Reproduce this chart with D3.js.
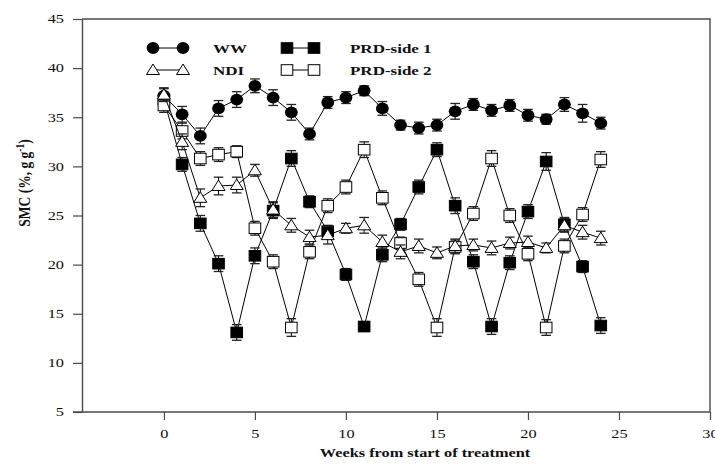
<!DOCTYPE html>
<html><head><meta charset="utf-8">
<script src="https://cdn.jsdelivr.net/npm/d3@7"></script>
<style>
html,body{margin:0;padding:0;background:#fff;}
svg{display:block;}
text{font-family:"Liberation Serif","Times New Roman",serif;fill:#111;}
</style></head>
<body>
<svg id="chart" width="715" height="466"></svg>
<script>
// ---- data ----
const weeks = [0,1,2,3,4,5,6,7,8,9,10,11,12,13,14,15,16,17,18,19,20,21,22,23,24];
const ww    = [37.2,35.3,33.1,35.9,36.8,38.2,37.0,35.5,33.3,36.5,37.0,37.7,35.9,34.2,33.9,34.2,35.6,36.3,35.7,36.2,35.2,34.8,36.3,35.4,34.4];
const wwErr = [0.7,0.8,0.8,0.8,0.8,0.7,0.8,0.8,0.6,0.6,0.6,0.5,0.7,0.5,0.6,0.6,0.8,0.6,0.6,0.6,0.6,0.5,0.7,0.9,0.6];
const prd1    = [36.8,30.2,24.2,20.1,13.1,20.9,25.5,30.8,26.4,23.4,19.0,13.7,21.0,24.1,27.9,31.7,26.0,20.3,13.7,20.2,25.4,30.5,24.1,19.8,13.8];
const prd1Err = [0.7,0.7,0.8,0.8,0.8,0.8,0.8,0.8,0.6,0.6,0.6,0.5,0.7,0.6,0.7,0.7,0.8,0.7,0.8,0.7,0.7,0.9,0.7,0.6,0.8];
const prd2    = [36.2,33.6,30.8,31.2,31.5,23.7,20.3,13.6,21.3,26.0,27.9,31.7,26.8,22.2,18.5,13.6,21.8,25.2,30.8,25.0,21.1,13.6,21.9,25.1,30.7];
const prd2Err = [0.7,0.8,0.7,0.7,0.6,0.7,0.7,0.9,0.7,0.7,0.7,0.8,0.7,0.6,0.7,0.9,0.7,0.7,0.8,0.7,0.7,0.8,0.7,0.7,0.8];
const ndi    = [37.3,32.5,26.8,28.0,28.1,29.6,25.6,24.0,22.8,23.0,23.7,24.0,22.3,21.3,21.9,21.2,21.9,22.0,21.7,22.2,22.3,21.7,24.0,23.3,22.7];
const ndiErr = [0.7,0.8,0.9,0.9,0.8,0.6,0.8,0.7,0.7,0.9,0.5,0.8,0.7,0.7,0.7,0.6,0.7,0.6,0.7,0.6,0.6,0.5,0.7,0.7,0.7];
const xTicks = [0,5,10,15,20,25,30];
const yTicks = [5,10,15,20,25,30,35,40,45];
const seriesNames = ["WW","NDI","PRD-side 1","PRD-side 2"];

const SX = 1.36; // horizontal stretch of the original lettering
const svg = d3.select("#chart");
const L = 82, R = 710, T = 19, B = 412;
const x = d3.scaleLinear().domain([-4.5,30]).range([L,R]);
const y = d3.scaleLinear().domain([5,45]).range([B,T]);
const axisColor = "#4a4a4a";

// frame (top + right)
svg.append("path").attr("d",`M${L},${T}H${R}V${B}`).attr("fill","none").attr("stroke",axisColor).attr("stroke-width",1.4);

// axes
const gx = svg.append("g").attr("transform",`translate(0,${B})`)
  .call(d3.axisBottom(x).tickValues(xTicks).tickSize(8).tickSizeOuter(0).tickPadding(9));
const gy = svg.append("g").attr("transform",`translate(${L},0)`)
  .call(d3.axisLeft(y).tickValues(yTicks).tickSize(9).tickSizeOuter(0).tickPadding(9));
[gx,gy].forEach(g=>{
  g.select(".domain").attr("stroke",axisColor).attr("stroke-width",1.4);
  g.selectAll(".tick line").attr("stroke",axisColor).attr("stroke-width",1.2);
  g.selectAll(".tick text").attr("font-size",12).attr("fill","#111")
    .attr("font-family","Liberation Serif, Times New Roman, serif");
});
gx.selectAll(".tick text").attr("transform",`scale(${SX},1)`);
gy.selectAll(".tick text").attr("x",-18/SX).attr("transform",`scale(${SX},1)`);
gx.select(".domain").attr("d",`M${L-9},0H${R}`);

// titles
svg.append("text").attr("transform",`translate(425,457) scale(${SX},1)`)
  .attr("text-anchor","middle").attr("font-size",12).attr("font-weight","bold")
  .text("Weeks from start of treatment");
const yl = svg.append("text").attr("transform",`translate(30,183) rotate(-90) scale(1,1.25)`)
  .attr("text-anchor","middle").attr("font-size",13.5).attr("font-weight","bold");
yl.append("tspan").text("SMC (%, g g");
yl.append("tspan").attr("dy",-5).attr("font-size",9.5).text("-1");
yl.append("tspan").attr("dy",5).text(")");

// marker drawing helpers
function marker(g, type, cx, cy){
  if(type==="circle"){
    g.append("ellipse").attr("cx",cx).attr("cy",cy).attr("rx",6.4).attr("ry",5.9).attr("fill","#000");
  } else if(type==="fsquare" || type==="osquare"){
    g.append("rect").attr("x",cx-5.8).attr("y",cy-5.3).attr("width",11.6).attr("height",10.6)
      .attr("fill",type==="fsquare"?"#000":"#fff").attr("stroke","#000").attr("stroke-width",1);
  } else {
    g.append("path").attr("d",`M${cx},${cy-6}L${cx+6.5},${cy+4.5}L${cx-6.5},${cy+4.5}Z`)
      .attr("fill","#fff").attr("stroke","#000").attr("stroke-width",1);
  }
}

const series = [
  {vals:ww, err:wwErr, type:"circle"},
  {vals:prd1, err:prd1Err, type:"fsquare"},
  {vals:prd2, err:prd2Err, type:"osquare"},
  {vals:ndi, err:ndiErr, type:"tri"}
];
const line = d3.line().x((d,i)=>x(weeks[i])).y(d=>y(d));
series.forEach(s=>{
  const g = svg.append("g");
  g.append("path").attr("d",line(s.vals)).attr("fill","none").attr("stroke","#000").attr("stroke-width",1);
  s.vals.forEach((v,i)=>{
    const cx = x(weeks[i]), y1 = y(v+s.err[i]), y2 = y(v-s.err[i]);
    g.append("line").attr("x1",cx).attr("x2",cx).attr("y1",y1).attr("y2",y2).attr("stroke","#000").attr("stroke-width",1);
    [y1,y2].forEach(yy=>g.append("line").attr("x1",cx-4.8).attr("x2",cx+4.8).attr("y1",yy).attr("y2",yy)
      .attr("stroke","#222").attr("stroke-width",1.3));
  });
  s.vals.forEach((v,i)=>marker(g,s.type,x(weeks[i]),y(v)));
});

// legend
const leg = [
  {name:seriesNames[0], type:"circle", lx:153, ly:48, tx:213},
  {name:seriesNames[1], type:"tri", lx:153, ly:70, tx:213},
  {name:seriesNames[2], type:"fsquare", lx:287, ly:48, tx:350},
  {name:seriesNames[3], type:"osquare", lx:287, ly:70, tx:350}
];
const lg = svg.append("g");
leg.forEach(d=>{
  const w = d.lx===153 ? 30 : 27;
  lg.append("line").attr("x1",d.lx).attr("x2",d.lx+w).attr("y1",d.ly).attr("y2",d.ly).attr("stroke","#000");
  marker(lg,d.type,d.lx,d.ly);
  marker(lg,d.type,d.lx+w,d.ly);
  lg.append("text").attr("transform",`translate(${d.tx},${d.ly+5}) scale(${SX},1)`)
    .attr("font-size",12.5).attr("font-weight","bold").text(d.name);
});
</script>
</body></html>
